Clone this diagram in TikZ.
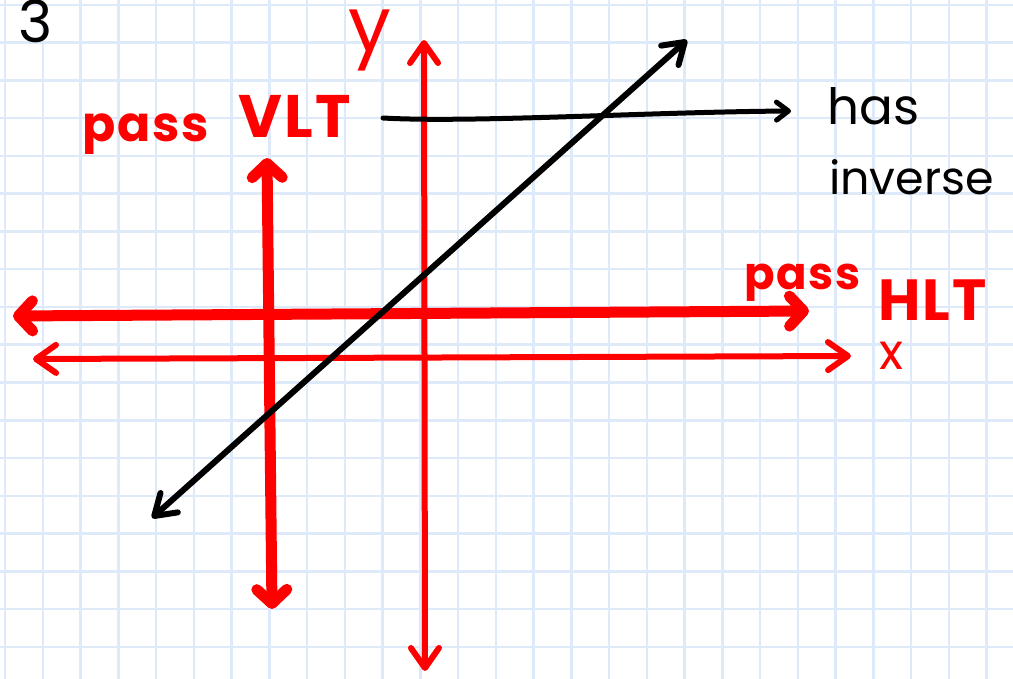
\documentclass[tikz,border=0pt]{standalone}
\usepackage{fontspec}
\setmainfont{Poppins}
\newfontfamily\penfont{Poppins}
\newfontfamily\redpenfont[LetterSpace=4]{Poppins}
\usetikzlibrary{arrows.meta}
\definecolor{gridblue}{RGB}{222,234,250}
\definecolor{pen}{RGB}{255,0,0}
\begin{document}
\begin{tikzpicture}[x=1pt,y=-1pt,
  gridline/.style={draw=gridblue, line width=2.5pt},
  thickred/.style={draw=pen, line width=11pt, line cap=round,
    {Straight Barb[round,length=14pt,width=30pt]}-{Straight Barb[round,length=14pt,width=30pt]}},
  thinred/.style={draw=pen, line width=6pt, line cap=round,
    {Straight Barb[round,length=20pt,width=28pt]}-{Straight Barb[round,length=20pt,width=28pt]}},
  blackline/.style={draw=black, line width=6pt, line cap=round,
    {Straight Barb[round,length=20pt,width=26pt]}-{Straight Barb[round,length=20pt,width=26pt]}},
  pointer/.style={draw=black, line width=5pt, line cap=round,
    -{Straight Barb[round,length=12pt,width=18pt]}},
  redlabel/.style={text=pen, inner sep=0pt, anchor=base west},
  blacklabel/.style={text=black, inner sep=0pt, anchor=base west},
]
\useasboundingbox (0,0) rectangle (1013,679);
\fill[white] (0,0) rectangle (1013,679);
% grid
\foreach \i in {0,...,26} \draw[gridline] ({5+37.75*\i},0) -- ({5+37.75*\i},679);
\foreach \j in {0,...,17} \draw[gridline] (0,{5+37.75*\j}) -- (1013,{5+37.75*\j});

% coordinates
\coordinate (yTop) at (424,40);
\coordinate (yBot) at (425,671);
\coordinate (xL) at (33,359);
\coordinate (xR) at (851,356);
\coordinate (vTop) at (267,158);
\coordinate (vBot) at (272,609);
\coordinate (hL) at (13,316);
\coordinate (hR) at (809,311);
\coordinate (dBL) at (152,518);
\coordinate (dTR) at (687,40);
\coordinate (pStart) at (383,118);
\coordinate (pEnd) at (791,111);

% axes and lines
\draw[thinred] (yBot) -- (yTop);
\draw[thinred] (xL) -- (xR);
\draw[thickred] (vBot) -- (vTop);
\draw[thickred] (hL) -- (hR);
\draw[blackline] (dBL) -- (dTR);
\draw[pointer] (pStart) .. controls (470,123) and (650,112) .. (pEnd);

% labels
\node[blacklabel, font=\penfont\fontsize{58}{64}\selectfont] (three) at (18,43) {3};
\node[redlabel, font=\redpenfont\bfseries\fontsize{49}{54}\selectfont] (passV) at (82,142) {pass};
\node[redlabel, font=\redpenfont\bfseries\fontsize{60}{66}\selectfont] (vlt) at (238,138) {VLT};
\node[redlabel, font=\redpenfont\bfseries\fontsize{45}{54}\selectfont] (passH) at (744,290) {pass};
\node[redlabel, font=\redpenfont\bfseries\fontsize{58}{62}\selectfont] (hlt) at (878,320) {HLT};
\node[redlabel, font=\penfont\fontsize{50}{54}\selectfont] (xlab) at (879,370) {x};
\node[redlabel, font=\penfont\fontsize{76}{80}\selectfont] (ylab) at (348,52) {y};
\node[blacklabel, font=\penfont\fontsize{50}{54}\selectfont] (has) at (827,125) {has};
\node[blacklabel, font=\penfont\fontsize{46}{50}\selectfont] (inv) at (829,195) {inverse};
\end{tikzpicture}
\end{document}
